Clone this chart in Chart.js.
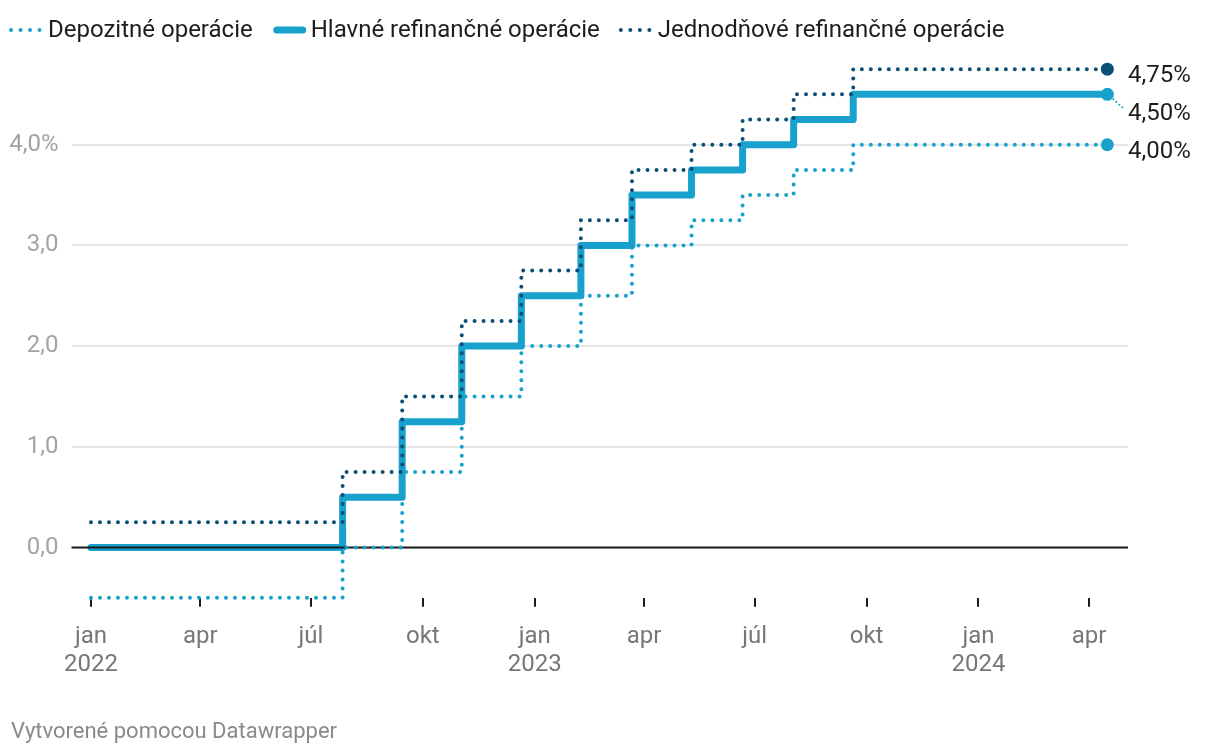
<!DOCTYPE html>
<html>
<head>
<meta charset="utf-8">
<script src="https://cdn.jsdelivr.net/npm/chart.js@4.4.1/dist/chart.umd.min.js"></script>
<style>
  html, body { margin: 0; padding: 0; background: #fff; }
  #wrap { position: relative; width: 1220px; height: 756px; }
  .footer { position: absolute; left: 11px; top: 718px; font: 22px Roboto, sans-serif; color: #8a8a8a; }
</style>
</head>
<body>
<div id="wrap">
  <canvas id="chart" width="1220" height="756"></canvas>
  <div class="footer">Vytvorené pomocou Datawrapper</div>
</div>
<script>
// dates on which the rates changed (last one = end of the series)
const changeDates = ["2022-01-01", "2022-07-27", "2022-09-14", "2022-11-02", "2022-12-21", "2023-02-08",
  "2023-03-22", "2023-05-10", "2023-06-21", "2023-08-02", "2023-09-20", "2024-04-16"];
const depoRates = [-0.5, 0, 0.75, 1.5, 2.0, 2.5, 3.0, 3.25, 3.5, 3.75, 4.0, 4.0];
const mainRates = [0, 0.5, 1.25, 2.0, 2.5, 3.0, 3.5, 3.75, 4.0, 4.25, 4.5, 4.5];
const marginalRates = [0.25, 0.75, 1.5, 2.25, 2.75, 3.25, 3.75, 4.0, 4.25, 4.5, 4.75, 4.75];
const seriesNames = ["Depozitné operácie", "Hlavné refinančné operácie", "Jednodňové refinančné operácie"];

const tickDates = ["2022-01-01", "2022-04-01", "2022-07-01", "2022-10-01", "2023-01-01", "2023-04-01",
  "2023-07-01", "2023-10-01", "2024-01-01", "2024-04-01"];
const tickLabels = [["jan", "2022"], "apr", "júl", "okt", ["jan", "2023"], "apr", "júl", "okt", ["jan", "2024"], "apr"];
const yTicks = [0, 1, 2, 3, 4];

const LIGHT = "#19a1ce";
const DARK = "#0b4f76";

// days since start, so the x axis can be a plain linear scale
const dayOf = d => (Date.parse(d) - Date.parse("2022-01-01")) / 86400000;
const toPoints = vals => vals.map((v, i) => ({ x: dayOf(changeDates[i]), y: v }));

const lastDot = c => c.dataIndex === c.dataset.data.length - 1 ? 6.5 : 0;

// legend at the top, drawn by hand to get the dotted samples right
const topLegend = {
  id: "topLegend",
  afterDraw(chart) {
    const ctx = chart.ctx;
    const y = 30;
    let x = 11;
    ctx.save();
    ctx.font = "24px Roboto";
    ctx.textBaseline = "middle";
    chart.data.datasets.forEach(ds => {
      ctx.beginPath();
      ctx.strokeStyle = ds.borderColor;
      ctx.lineCap = "round";
      if (ds.borderDash && ds.borderDash.length) {
        ctx.lineWidth = 4;
        ctx.setLineDash([0, 9.5]);
        ctx.moveTo(x, y);
        ctx.lineTo(x + 30, y);
      } else {
        ctx.lineWidth = 7;
        ctx.setLineDash([]);
        ctx.moveTo(x + 3, y);
        ctx.lineTo(x + 29, y);
      }
      ctx.stroke();
      ctx.setLineDash([]);
      ctx.fillStyle = "#1d1d1d";
      ctx.fillText(ds.label, x + 37, y + 1);
      x += 37 + ctx.measureText(ds.label).width + 21;
    });
    ctx.restore();
  }
};

// black zero line over the thick series, under the dotted ones
const zeroLine = {
  id: "zeroLine",
  afterDatasetDraw(chart, args) {
    if (args.index !== 1) return;
    const ctx = chart.ctx;
    const area = chart.chartArea;
    const y0 = chart.scales.y.getPixelForValue(0);
    ctx.save();
    ctx.strokeStyle = "#1d1d1d";
    ctx.lineWidth = 2;
    ctx.beginPath();
    ctx.moveTo(area.left, y0);
    ctx.lineTo(area.right, y0);
    ctx.stroke();
    ctx.restore();
  }
};

// value labels at the end of each line
const endLabels = {
  id: "endLabels",
  afterDatasetsDraw(chart) {
    const ctx = chart.ctx;
    const right = chart.chartArea.right;
    ctx.save();
    ctx.font = "24px Roboto";
    ctx.fillStyle = "#1d1d1d";
    ctx.textBaseline = "middle";
    chart.data.datasets.forEach((ds, i) => {
      const meta = chart.getDatasetMeta(i);
      const pt = meta.data[meta.data.length - 1];
      const v = ds.data[ds.data.length - 1].y;
      const ly = pt.y + ds.labelShift;
      if (ds.labelShift > 10) {
        ctx.beginPath();
        ctx.strokeStyle = ds.borderColor;
        ctx.lineWidth = 2;
        ctx.lineCap = "round";
        ctx.setLineDash([0, 4]);
        ctx.moveTo(pt.x + 6, pt.y + 5);
        ctx.lineTo(pt.x + 15, pt.y + 13);
        ctx.stroke();
        ctx.setLineDash([]);
      }
      ctx.fillText(v.toFixed(2).replace(".", ",") + "%", right, ly);
    });
    ctx.restore();
  }
};

new Chart(document.getElementById("chart"), {
  type: "line",
  data: {
    datasets: [
      {
        label: seriesNames[0],
        data: toPoints(depoRates),
        borderColor: LIGHT,
        backgroundColor: LIGHT,
        borderWidth: 4,
        borderDash: [0, 9],
        borderCapStyle: "round",
        stepped: true,
        order: 1,
        labelShift: 7.5
      },
      {
        label: seriesNames[1],
        data: toPoints(mainRates),
        borderColor: LIGHT,
        backgroundColor: LIGHT,
        borderWidth: 7,
        borderCapStyle: "round",
        borderJoinStyle: "round",
        stepped: true,
        order: 2,
        labelShift: 20
      },
      {
        label: seriesNames[2],
        data: toPoints(marginalRates),
        borderColor: DARK,
        backgroundColor: DARK,
        borderWidth: 4,
        borderDash: [0, 9],
        borderCapStyle: "round",
        stepped: true,
        order: 0,
        labelShift: 6.5
      }
    ]
  },
  options: {
    responsive: false,
    devicePixelRatio: 1,
    animation: false,
    clip: false,
    datasets: {
      line: {
        clip: false,
        pointRadius: lastDot,
        pointHoverRadius: lastDot,
        pointBorderWidth: 0
      }
    },
    layout: { padding: { top: 69.2, right: 92, bottom: 0, left: 0 } },
    plugins: {
      legend: { display: false },
      tooltip: { enabled: false }
    },
    scales: {
      x: {
        type: "linear",
        min: -16,
        max: 853,
        afterBuildTicks: s => { s.ticks = tickDates.map(d => ({ value: dayOf(d) })); },
        afterFit: s => { s.height = 158.15; },
        border: { display: false },
        grid: { drawOnChartArea: false, drawTicks: true, tickLength: 9, color: "#1d1d1d", lineWidth: 2 },
        ticks: {
          autoSkip: false,
          maxRotation: 0,
          padding: 16,
          color: "#777",
          font: { family: "Roboto", size: 24, lineHeight: 1.17 },
          callback: (v, i) => tickLabels[i]
        }
      },
      y: {
        min: -0.5,
        max: 4.75,
        afterBuildTicks: s => { s.ticks = yTicks.map(v => ({ value: v })); },
        afterFit: s => { s.width = 71.5; },
        border: { display: false },
        grid: { drawTicks: false, color: "#e6e6e6", lineWidth: 2 },
        ticks: {
          padding: 13,
          color: "#a3a3a3",
          font: { family: "Roboto", size: 24 },
          callback: (v, i) => v.toFixed(1).replace(".", ",") + (i === yTicks.length - 1 ? "%" : "")
        }
      }
    }
  },
  plugins: [topLegend, zeroLine, endLabels]
});
</script>
</body>
</html>
